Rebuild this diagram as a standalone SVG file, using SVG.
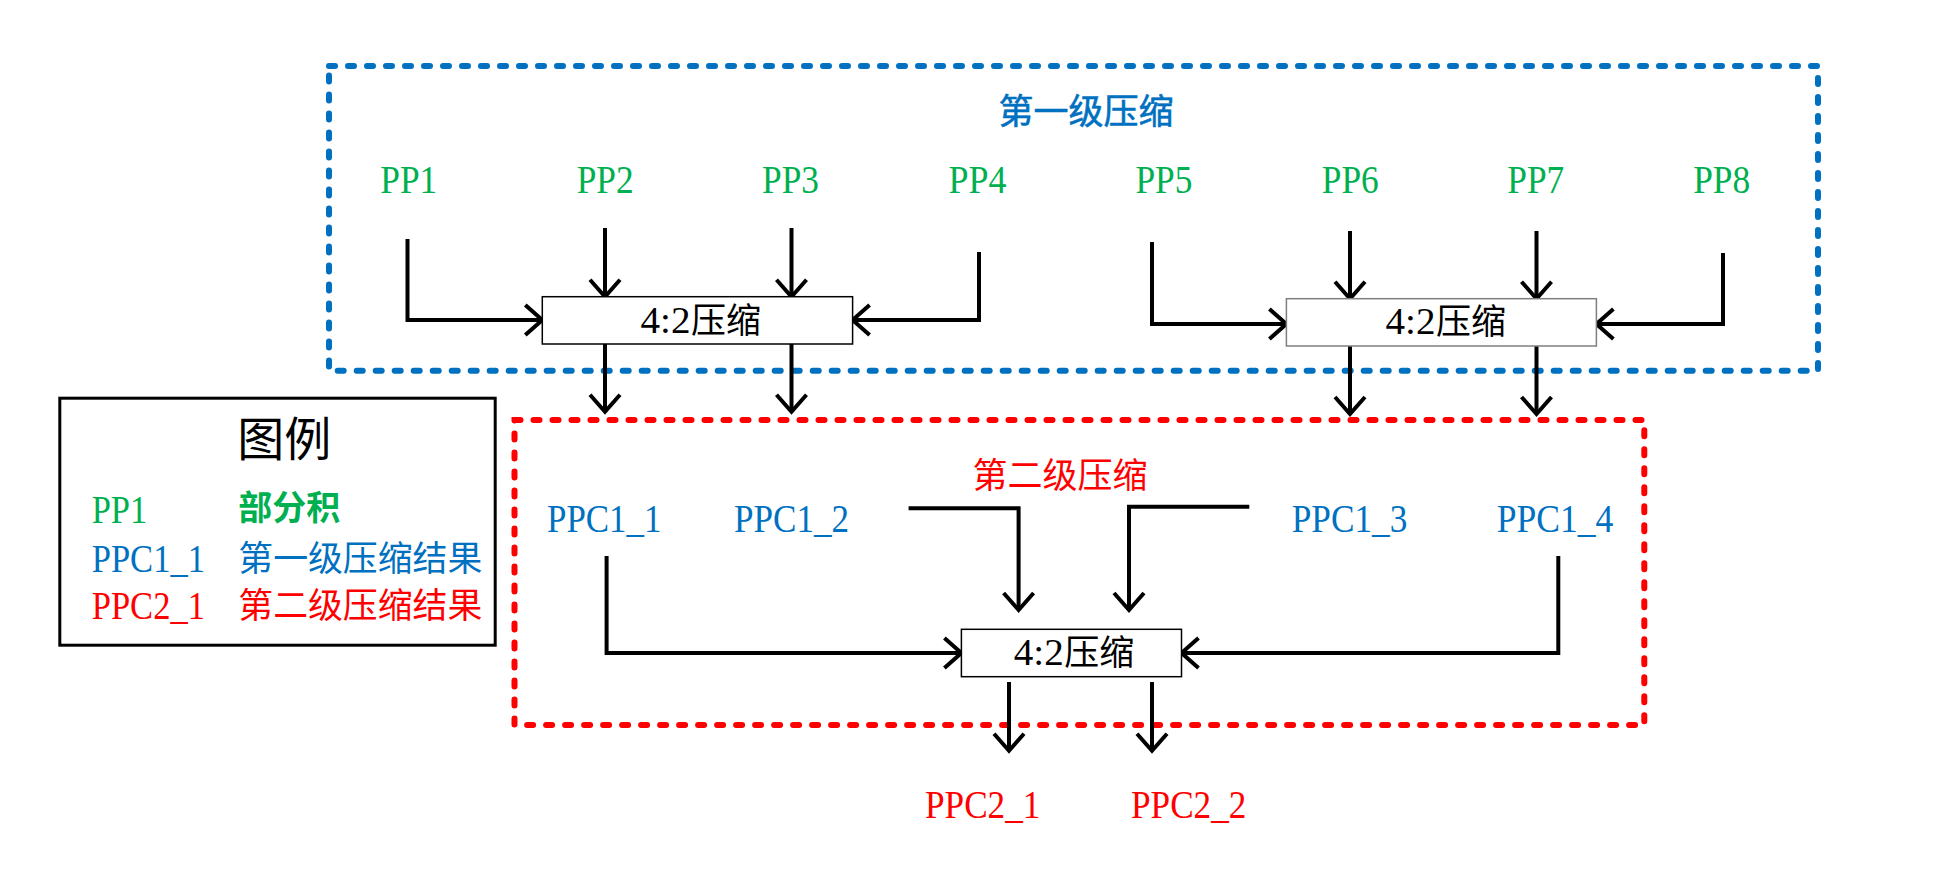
<svg xmlns="http://www.w3.org/2000/svg" width="1950" height="884" viewBox="0 0 1950 884">
<style>
.lat{font-family:"Liberation Serif","Times New Roman",serif;font-size:40px}
.cjk{font-family:"Noto Sans CJK SC","Noto Sans CJK JP",sans-serif;font-size:35px}
.g{fill:#00B050}.b{fill:#0070C0}.r{fill:#FF0000}.k{fill:#000}
.conn{fill:none;stroke:#000;stroke-width:4}
.box{fill:#fff;stroke:#000;stroke-width:1.5}
.grp{fill:none;stroke-width:6;stroke-dasharray:6 13;stroke-linecap:round}
.num{font-family:"Liberation Serif","Times New Roman",serif;font-size:38px}
</style>
<defs>
<marker id="ah" markerUnits="userSpaceOnUse" markerWidth="26" markerHeight="38" viewBox="-3 -3 26 38" refX="17" refY="15" orient="auto">
<path d="M0,0 L17,15 L0,30" fill="none" stroke="#000" stroke-width="4"/>
</marker>
</defs>
<rect width="1950" height="884" fill="#fff"/>

<g id="stage1">
<rect x="329" y="66" width="1489" height="304.7" class="grp" stroke="#0070C0"/>
<text x="998.6" y="124" class="cjk b" style="stroke:#0070C0;stroke-width:0.6">第一级压缩</text>
</g>
<g id="stage2">
<rect x="514.5" y="420" width="1129.8" height="305" class="grp" stroke="#FF0000"/>
<text x="972.6" y="488" class="cjk r">第二级压缩</text>
</g>

<g id="connectors">
<path class="conn" marker-end="url(#ah)" d="M407.5,239 V320 H542.3"/>
<path class="conn" marker-end="url(#ah)" d="M605,228 V296.7"/>
<path class="conn" marker-end="url(#ah)" d="M791.5,228 V296.7"/>
<path class="conn" marker-end="url(#ah)" d="M979,252 V320 H852.6"/>
<path class="conn" marker-end="url(#ah)" d="M605,344 V411.7"/>
<path class="conn" marker-end="url(#ah)" d="M791.5,344 V411.7"/>
<path class="conn" marker-end="url(#ah)" d="M1152,242 V324 H1286.4"/>
<path class="conn" marker-end="url(#ah)" d="M1350,231 V298.7"/>
<path class="conn" marker-end="url(#ah)" d="M1536.5,231 V298.7"/>
<path class="conn" marker-end="url(#ah)" d="M1723,253 V324 H1596.4"/>
<path class="conn" marker-end="url(#ah)" d="M1350,346 V414"/>
<path class="conn" marker-end="url(#ah)" d="M1536.5,346 V414"/>
<path class="conn" marker-end="url(#ah)" d="M606.6,556 V653 H961.4"/>
<path class="conn" marker-end="url(#ah)" d="M908.6,508.3 H1018.6 V610"/>
<path class="conn" marker-end="url(#ah)" d="M1249.3,506.7 H1129 V610"/>
<path class="conn" marker-end="url(#ah)" d="M1558.3,556 V653 H1181.5"/>
<path class="conn" marker-end="url(#ah)" d="M1009,682 V750.7"/>
<path class="conn" marker-end="url(#ah)" d="M1152,682 V750.7"/>
</g>

<g id="pp1"><text x="380.3" y="193" class="lat g" textLength="57" lengthAdjust="spacingAndGlyphs">PP1</text></g>
<g id="pp2"><text x="576.7" y="193" class="lat g" textLength="57" lengthAdjust="spacingAndGlyphs">PP2</text></g>
<g id="pp3"><text x="762" y="193" class="lat g" textLength="57" lengthAdjust="spacingAndGlyphs">PP3</text></g>
<g id="pp4"><text x="948.5" y="193" class="lat g" textLength="58" lengthAdjust="spacingAndGlyphs">PP4</text></g>
<g id="pp5"><text x="1135.4" y="193" class="lat g" textLength="57" lengthAdjust="spacingAndGlyphs">PP5</text></g>
<g id="pp6"><text x="1321.8" y="193" class="lat g" textLength="57" lengthAdjust="spacingAndGlyphs">PP6</text></g>
<g id="pp7"><text x="1507.3" y="193" class="lat g" textLength="57" lengthAdjust="spacingAndGlyphs">PP7</text></g>
<g id="pp8"><text x="1693.2" y="193" class="lat g" textLength="57" lengthAdjust="spacingAndGlyphs">PP8</text></g>

<g id="comp1">
<rect x="542.3" y="296.7" width="310.3" height="47.3" class="box"/>
<text x="640.5" y="333" class="num k" textLength="50" lengthAdjust="spacingAndGlyphs">4:2</text>
<text x="691" y="333" class="cjk k">压缩</text>
</g>
<g id="comp2">
<rect x="1286.4" y="298.7" width="310" height="47.3" class="box" style="stroke:#7f7f7f"/>
<text x="1385.5" y="334" class="num k" textLength="50" lengthAdjust="spacingAndGlyphs">4:2</text>
<text x="1436" y="334" class="cjk k">压缩</text>
</g>
<g id="comp3">
<rect x="961.4" y="629.3" width="220.1" height="47.4" class="box"/>
<text x="1013.8" y="665" class="num k" textLength="50" lengthAdjust="spacingAndGlyphs">4:2</text>
<text x="1064.3" y="665" class="cjk k">压缩</text>
</g>

<g id="ppc1_1"><text x="547" y="531.7" class="lat b" textLength="114.4" lengthAdjust="spacingAndGlyphs">PPC1_1</text></g>
<g id="ppc1_2"><text x="734" y="531.7" class="lat b" textLength="115" lengthAdjust="spacingAndGlyphs">PPC1_2</text></g>
<g id="ppc1_3"><text x="1291.7" y="531.7" class="lat b" textLength="115.6" lengthAdjust="spacingAndGlyphs">PPC1_3</text></g>
<g id="ppc1_4"><text x="1496.7" y="531.7" class="lat b" textLength="116.6" lengthAdjust="spacingAndGlyphs">PPC1_4</text></g>
<g id="ppc2_1"><text x="925" y="818.3" class="lat r" textLength="115.4" lengthAdjust="spacingAndGlyphs">PPC2_1</text></g>
<g id="ppc2_2"><text x="1131" y="818.3" class="lat r" textLength="115.4" lengthAdjust="spacingAndGlyphs">PPC2_2</text></g>

<g id="legend">
<rect x="59.8" y="398.2" width="435.4" height="247" fill="none" stroke="#000" stroke-width="3"/>
<text x="284.3" y="456" text-anchor="middle" class="k" style="font-family:'Noto Sans CJK SC',sans-serif;font-size:47px">图例</text>
<text x="91.7" y="523.3" class="lat g" textLength="55.6" lengthAdjust="spacingAndGlyphs">PP1</text>
<text x="238.3" y="520" class="cjk g" style="font-size:34px;font-weight:bold">部分积</text>
<text x="91.7" y="572.3" class="lat b" textLength="113.3" lengthAdjust="spacingAndGlyphs">PPC1_1</text>
<text x="238.3" y="571" class="cjk b" textLength="244" lengthAdjust="spacingAndGlyphs">第一级压缩结果</text>
<text x="91.7" y="619.3" class="lat r" textLength="113.3" lengthAdjust="spacingAndGlyphs">PPC2_1</text>
<text x="238.3" y="618" class="cjk r" textLength="244" lengthAdjust="spacingAndGlyphs">第二级压缩结果</text>
</g>
</svg>
